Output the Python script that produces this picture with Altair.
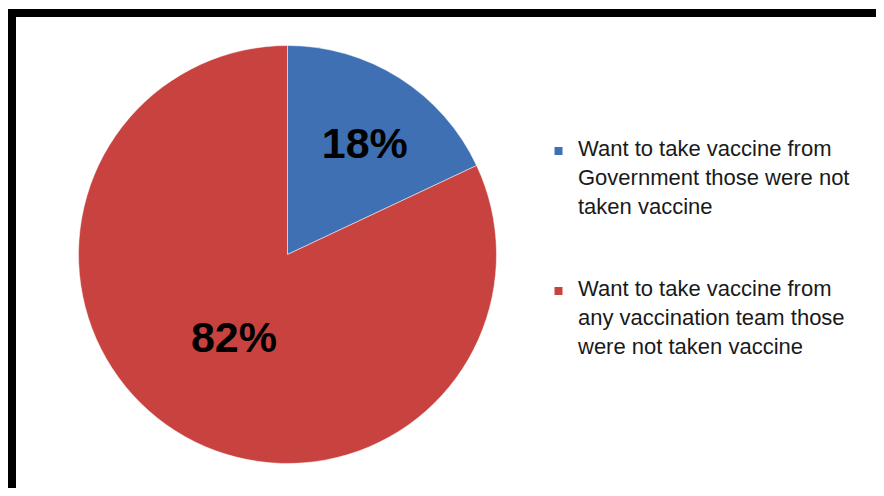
import altair as alt
import pandas as pd

categories = [
    "Want to take vaccine from Government those were not taken vaccine",
    "Want to take vaccine from any vaccination team those were not taken vaccine",
]
values = [18, 82]
pct_labels = ["18%", "82%"]
legend_lines = [
    "Want to take vaccine from\nGovernment those were not\ntaken vaccine",
    "Want to take vaccine from\nany vaccination team those\nwere not taken vaccine",
]
colors = ["#3E70B3", "#C8423F"]

df = pd.DataFrame({
    "category": categories,
    "value": values,
    "pct": pct_labels,
    "legend": legend_lines,
    "order": [0, 1],
})

W, H = 868, 480
CX, CY, R = 279.5, 246.5, 209

color = alt.Color("category:N", scale=alt.Scale(domain=categories, range=colors), legend=None)
theta = alt.Theta("value:Q", stack=True)

base = alt.Chart(df)

pie = base.mark_arc(radius=R, stroke="#ffffff", strokeWidth=0.5).encode(
    theta=theta,
    order=alt.Order("order:Q"),
    color=color,
    x=alt.value(CX),
    y=alt.value(CY),
)

lab18 = base.transform_filter(alt.datum.order == 0).mark_text(
    radius=133, font="Liberation Sans", fontWeight="bold", fontSize=43,
    color="#000000", dx=6, dy=3,
).encode(theta=alt.Theta("value:Q", stack=True, scale=alt.Scale(domain=[0, 100])),
         text="pct:N", x=alt.value(CX), y=alt.value(CY))

lab82 = base.mark_text(
    radius=100, font="Liberation Sans", fontWeight="bold", fontSize=43,
    color="#000000",
).encode(theta=theta, order=alt.Order("order:Q"), text="pct:N",
         x=alt.value(CX), y=alt.value(CY), opacity=alt.condition(alt.datum.order == 1, alt.value(1), alt.value(0)))

ypos = alt.Y("category:N", scale=alt.Scale(domain=categories, type="point", range=[143, 283], padding=0), axis=None)

leg_sq = base.mark_square(size=64, opacity=1).encode(
    x=alt.value(550.5), y=ypos, color=color,
)
leg_txt = base.mark_text(
    align="left", baseline="alphabetic", font="Liberation Sans", fontSize=22,
    lineBreak="\n", lineHeight=29, color="#1a1a1a", dy=5,
).encode(x=alt.value(570), y=ypos, text="legend:N")

top_border = base.mark_rule(color="#000000", strokeWidth=8).encode(
    x=alt.value(0), x2=alt.value(W), y=alt.value(5)
)
left_border = base.mark_rule(color="#000000", strokeWidth=8).encode(
    x=alt.value(4), y=alt.value(1), y2=alt.value(H)
)

chart = alt.layer(pie, lab18, lab82, leg_sq, leg_txt, top_border, left_border).properties(
    width=W, height=H, padding=0, autosize=alt.AutoSizeParams(type="none"),
    background="#ffffff",
).resolve_scale(theta="independent").configure_view(stroke=None)

chart.save("out.html", embed_options={"renderer": "svg", "actions": False})
